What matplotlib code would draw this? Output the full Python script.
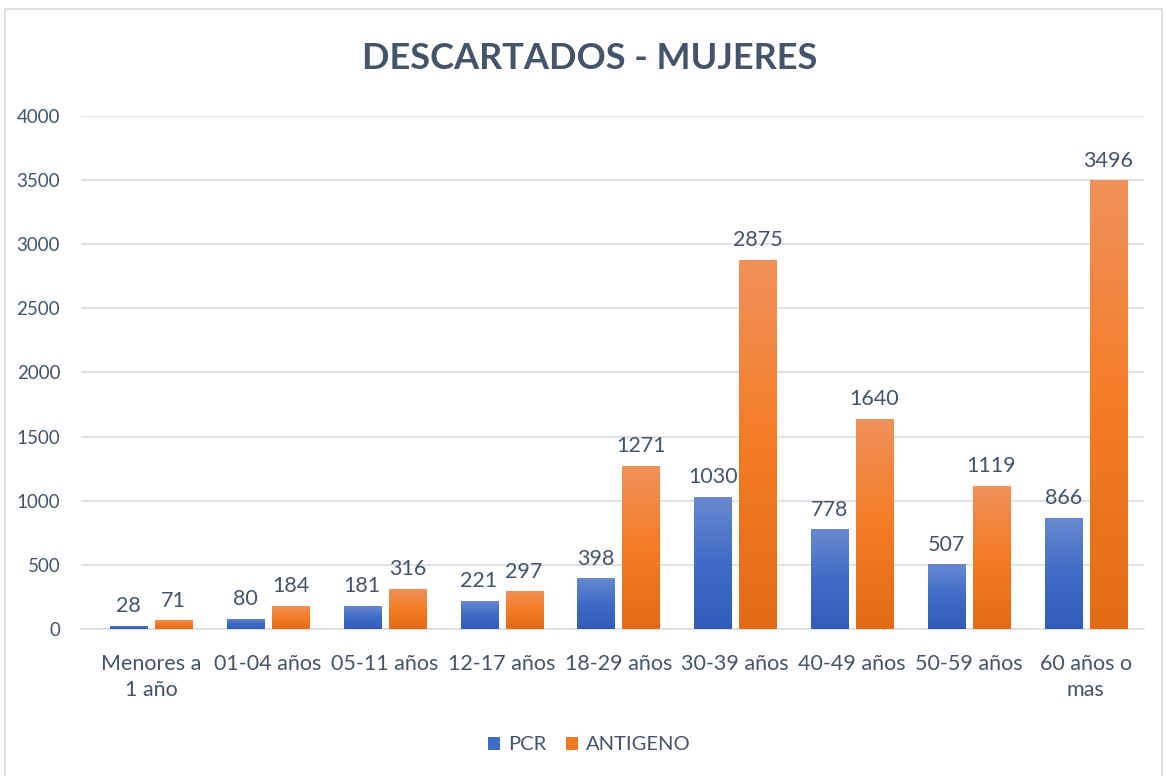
import matplotlib.pyplot as plt
import numpy as np
from matplotlib.colors import LinearSegmentedColormap
from matplotlib.patches import Rectangle, Patch

categories = ['Menores a\n1 año', '01-04 años', '05-11 años', '12-17 años', '18-29 años',
              '30-39 años', '40-49 años', '50-59 años', '60 años o\nmas']
pcr = [28, 80, 181, 221, 398, 1030, 778, 507, 866]
antigeno = [71, 184, 316, 297, 1271, 2875, 1640, 1119, 3496]

TEXT = '#44546A'
plt.rcParams['font.family'] = ['Lato', 'DejaVu Sans']

blue_cm = LinearSegmentedColormap.from_list('b', ['#2F5DB9', '#3E6CC6', '#6A8AD0'])
orange_cm = LinearSegmentedColormap.from_list('o', ['#E16B17', '#F47C25', '#F0915B'])


def gradient_bars(ax_, xs, vals, width, cmap):
    '''draw bars and fill them with a vertical gradient'''
    grad = np.linspace(0, 1, 256).reshape(-1, 1)
    bars = ax_.bar(xs, vals, width, color='none', zorder=3)
    for bar in bars:
        x0, y0 = bar.get_x(), bar.get_y()
        w, h = bar.get_width(), bar.get_height()
        im = ax_.imshow(grad, cmap=cmap, origin='lower', aspect='auto',
                        extent=(x0, x0 + w, y0, y0 + h), zorder=3)
        im.set_clip_path(bar)
    return bars


fig = plt.figure(figsize=(11.67, 7.76), dpi=100)
ax = fig.add_axes([0.0694, 0.189, 0.911, 0.662])

x = np.arange(len(categories))
w = 0.317
off = 0.193
gradient_bars(ax, x - off, pcr, w, blue_cm)
gradient_bars(ax, x + off, antigeno, w, orange_cm)

for xi, v in zip(x - off, pcr):
    ax.text(xi, v + 75, str(v), ha='center', va='bottom', fontsize=15.5, color=TEXT)
for xi, v in zip(x + off, antigeno):
    ax.text(xi, v + 75, str(v), ha='center', va='bottom', fontsize=15.5, color=TEXT)

ax.set_xlim(-0.6, len(categories) - 0.5)
ax.set_ylim(0, 4000)
ax.set_yticks(range(0, 4001, 500))
ax.set_xticks(x)
ax.set_xticklabels(categories, fontsize=15.5, color=TEXT, linespacing=1.35)
ax.tick_params(axis='y', labelsize=13.5, labelcolor=TEXT, length=0, pad=15)
ax.tick_params(axis='x', length=0, pad=18)
ax.grid(axis='y', color='#D9DEE5', linewidth=1.2, zorder=0)
ax.set_axisbelow(True)
for side in ['top', 'right', 'left']:
    ax.spines[side].set_visible(False)
ax.spines['bottom'].set_color('#D9DEE5')
ax.spines['bottom'].set_linewidth(1.2)

fig.text(0.505, 0.925, 'DESCARTADOS - MUJERES', ha='center', va='center',
         fontsize=26, fontweight='bold', color=TEXT)

handles = [Patch(facecolor='#3E6CC6', label='PCR'), Patch(facecolor='#F07A24', label='ANTIGENO')]
fig.legend(handles=handles, loc='center', bbox_to_anchor=(0.505, 0.04), ncol=2, frameon=False,
           fontsize=14.5, labelcolor=TEXT, handlelength=0.6, handleheight=0.6,
           handletextpad=0.4, columnspacing=1.0)

fig.patches.append(Rectangle((0.004, -0.01), 0.992, 0.998, transform=fig.transFigure,
                             fill=False, edgecolor='#D9D9D9', linewidth=1.2))

fig.savefig('out.png', dpi=100)
